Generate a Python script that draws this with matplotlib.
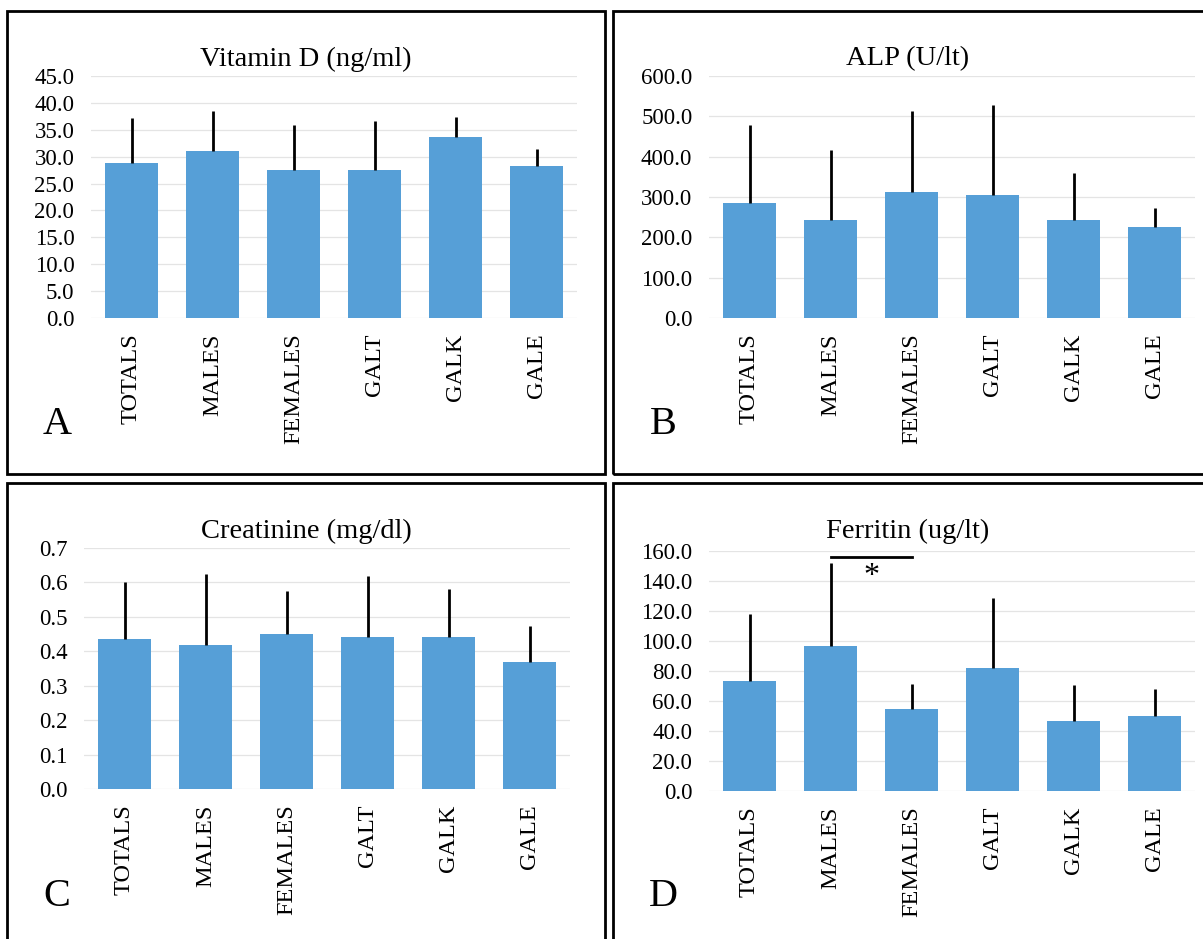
import numpy as np
import matplotlib.pyplot as plt
from matplotlib.patches import Rectangle

plt.rcParams['font.family'] = ['Liberation Serif', 'DejaVu Serif']

groups = ['TOTALS', 'MALES', 'FEMALES', 'GALT', 'GALK', 'GALE']

vitd_mean = [28.9, 31.0, 27.5, 27.5, 33.6, 28.2]
vitd_sd = [8.3, 7.5, 8.4, 9.2, 3.7, 3.2]

alp_mean = [285.0, 243.0, 312.5, 306.0, 244.0, 225.0]
alp_sd = [194.0, 174.0, 201.5, 221.0, 115.0, 48.0]

creat_mean = [0.436, 0.417, 0.449, 0.442, 0.442, 0.368]
creat_sd = [0.164, 0.207, 0.125, 0.178, 0.139, 0.104]

ferr_mean = [73.1, 96.5, 54.6, 82.0, 46.6, 50.1]
ferr_sd = [44.6, 55.3, 16.5, 46.6, 23.8, 17.6]

W, H = 1203, 939
BLUE = '#569FD7'

fig = plt.figure(figsize=(W / 100, H / 100), dpi=100)


def px_axes(x0, y0, x1, y1):
    # pixel box (top-left origin) -> figure axes
    return fig.add_axes([x0 / W, 1 - y1 / H, (x1 - x0) / W, (y1 - y0) / H])


def panel(box, plot, title, letter, mean, sd, ymax, step, fmt):
    bx0, by0, bx1, by1 = box
    fig.patches.append(Rectangle((bx0 / W, 1 - by1 / H), (bx1 - bx0) / W, (by1 - by0) / H,
                                 transform=fig.transFigure, fill=False,
                                 edgecolor='black', linewidth=2.0, zorder=10))
    ax = px_axes(*plot)
    x = np.arange(len(groups))
    ax.bar(x, mean, width=0.66, color=BLUE, zorder=2)
    ax.errorbar(x, mean, yerr=[np.zeros(len(sd)), sd], fmt='none',
                ecolor='black', elinewidth=2.0, capsize=0, zorder=3)
    ax.set_xlim(-0.5, len(groups) - 0.5)
    ax.set_ylim(0, ymax)
    yt = np.arange(0, ymax + step / 2, step)
    ax.set_yticks(yt)
    ax.set_yticklabels([fmt % v for v in yt], fontsize=16.5)
    ax.set_xticks(x)
    ax.set_xticklabels(groups, rotation=90, fontsize=17.5)
    ax.tick_params(length=0, axis='y', pad=12)
    ax.tick_params(length=0, axis='x', pad=11)
    ax.grid(axis='y', color='#e4e4e4', linewidth=0.9, zorder=0)
    ax.set_axisbelow(True)
    for s in ax.spines.values():
        s.set_visible(False)
    cx = (bx0 + min(bx1, W)) / 2
    fig.text(cx / W, 1 - (by0 + 48) / H, title, fontsize=20.5, ha='center', va='center')
    fig.text((bx0 + 50) / W, 1 - (by0 + 413) / H, letter, fontsize=29,
             ha='center', va='center')
    return ax


panel((7, 11, 605, 474), (91, 76, 577, 318), 'Vitamin D (ng/ml)', 'A',
      vitd_mean, vitd_sd, 45, 5, '%.1f')
panel((613, 11, 1215, 474), (709, 76, 1195, 318), 'ALP (U/lt)', 'B',
      alp_mean, alp_sd, 600, 100, '%.1f')
panel((7, 483, 605, 950), (84, 548, 570, 789), 'Creatinine (mg/dl)', 'C',
      creat_mean, creat_sd, 0.7, 0.1, '%.1f')
axd = panel((613, 483, 1215, 950), (709, 551, 1195, 791), 'Ferritin (ug/lt)', 'D',
            ferr_mean, ferr_sd, 160, 20, '%.1f')

# significance bracket between males and females
axd.plot([1, 2], [156, 156], color='black', linewidth=2.0, clip_on=False, zorder=4)
axd.text(1.5, 143, '*', fontsize=23, ha='center', va='center')

fig.savefig('out.png', dpi=100)
